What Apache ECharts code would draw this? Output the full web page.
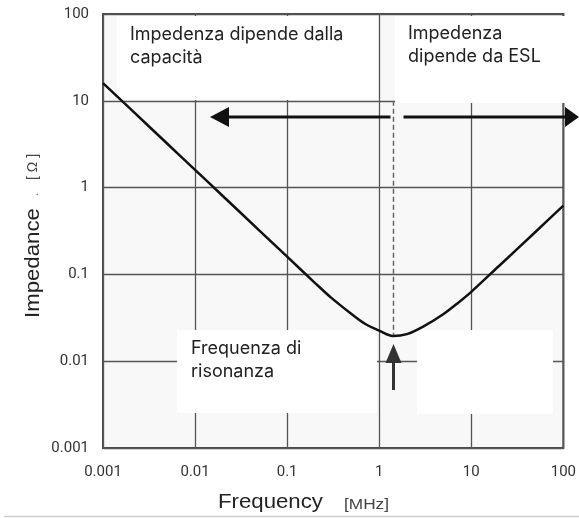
<!DOCTYPE html>
<html>
<head>
<meta charset="utf-8">
<script src="https://cdn.jsdelivr.net/npm/echarts@6/dist/echarts.min.js"></script>
<style>
  html, body { margin: 0; padding: 0; background: #ffffff; }
  #chart { width: 579px; height: 518px; }
</style>
</head>
<body>
<div id="chart"></div>
<script>
// Capacitor impedance versus frequency (log-log)
const freqMHz = [0.001, 0.002, 0.005, 0.01, 0.02, 0.05, 0.1, 0.2, 0.3, 0.5, 0.7, 1, 1.4, 2, 3, 5, 7, 10, 20, 50, 100];
const impedanceOhm = [16, 8, 3.2, 1.6, 0.8, 0.32, 0.16, 0.08, 0.054, 0.035, 0.027, 0.0225, 0.0195, 0.0205, 0.025, 0.035, 0.046, 0.063, 0.125, 0.31, 0.62];
const xTickLabels = ['0.001', '0.01', '0.1', '1', '10', '100'];
const yTickLabels = ['0.001', '0.01', '0.1', '1', '10', '100'];
const resonanceFreq = 1.4;
const resonanceZ = 0.0195;
const arrowLevel = 6.5;   // height of the double arrow, in ohms

const boxLeftTitle = ['Impedenza dipende dalla', 'capacità'];
const boxRightTitle = ['Impedenza', 'dipende da ESL'];
const resonanceTitle = ['Frequenza di', 'risonanza'];

const chart = echarts.init(document.getElementById('chart'), null, { renderer: 'canvas' });

function tickText(list, v) {
  const i = Math.round(Math.log10(v)) + 3;
  return list[i] !== undefined ? list[i] : '';
}

const gridColor = '#555555';

chart.setOption({
  animation: false,
  grid: {
    left: 103, right: 15, top: 14, bottom: 70,
    show: true,
    backgroundColor: '#f8f8f8',
    borderColor: '#4a4a4a',
    borderWidth: 2
  },
  xAxis: {
    type: 'log', logBase: 10, min: 0.001, max: 100,
    axisLine: { show: false },
    axisTick: { show: false },
    splitLine: { show: true, lineStyle: { color: gridColor, width: 1.3 } },
    axisLabel: {
      margin: 17, color: '#333', fontFamily: 'Roboto', fontSize: 15,
      formatter: v => tickText(xTickLabels, v)
    }
  },
  yAxis: {
    type: 'log', logBase: 10, min: 0.001, max: 100,
    axisLine: { show: false },
    axisTick: { show: false },
    splitLine: { show: true, lineStyle: { color: gridColor, width: 1.3 } },
    axisLabel: {
      margin: 14, color: '#333', fontFamily: 'Roboto', fontSize: 15,
      formatter: v => tickText(yTickLabels, v)
    }
  },
  series: [{
    type: 'line',
    z: 5,
    data: freqMHz.map((f, i) => [f, impedanceOhm[i]]),
    smooth: 0.3,
    showSymbol: false,
    lineStyle: { color: '#111', width: 2.5 }
  }]
});

// Annotations: text panels, arrows and the resonance marker
const pRes = chart.convertToPixel({ gridIndex: 0 }, [resonanceFreq, resonanceZ]);
const pTen = chart.convertToPixel({ gridIndex: 0 }, [resonanceFreq, 10]);
const pArrow = chart.convertToPixel({ gridIndex: 0 }, [resonanceFreq, arrowLevel]);
const xr = Math.round(pRes[0]) + 0.5;
const ya = Math.round(pArrow[1]);

const txtFont = 'Inter';
const txtSize = 18;
const txtColor = '#222';

function panelText(lines, x, baseline) {
  return lines.map((t, i) => ({
    type: 'text', z: 12,
    x: x, y: baseline + i * 23 - 6,
    style: { text: t, fill: txtColor, font: txtSize + 'px ' + txtFont, verticalAlign: 'middle', align: 'left' }
  }));
}

const elements = [
  // white panels
  { type: 'rect', z: 3, shape: { x: 117, y: 16, width: 261, height: 84 }, style: { fill: '#ffffff' } },
  { type: 'rect', z: 3, shape: { x: 395, y: 16, width: 184, height: 87 }, style: { fill: '#ffffff' } },
  { type: 'rect', z: 3, shape: { x: 177, y: 330, width: 200, height: 83 }, style: { fill: '#ffffff' } },
  { type: 'rect', z: 3, shape: { x: 417, y: 330, width: 136, height: 84 }, style: { fill: '#ffffff' } },

  // dashed resonance line
  { type: 'line', z: 8, shape: { x1: xr, y1: pTen[1], x2: xr, y2: pRes[1] - 1 },
    style: { stroke: '#666', lineWidth: 1.5, lineDash: [5, 3] } },

  // double arrow split at the resonance line
  { type: 'line', z: 8, shape: { x1: 225, y1: ya, x2: xr - 3, y2: ya }, style: { stroke: '#111', lineWidth: 3 } },
  { type: 'polygon', z: 8, shape: { points: [[210, ya], [229, ya - 10], [229, ya + 10]] }, style: { fill: '#111' } },
  { type: 'line', z: 8, shape: { x1: xr + 10, y1: ya, x2: 566, y2: ya }, style: { stroke: '#111', lineWidth: 3 } },
  { type: 'polygon', z: 8, shape: { points: [[579, ya], [565, ya - 10], [565, ya + 10]] }, style: { fill: '#111' } },

  // upward arrow under the minimum
  { type: 'polygon', z: 8, shape: { points: [[xr, pRes[1] + 8], [xr - 8, pRes[1] + 27], [xr + 8, pRes[1] + 27]] }, style: { fill: '#333' } },
  { type: 'line', z: 8, shape: { x1: xr, y1: pRes[1] + 24, x2: xr, y2: pRes[1] + 54 }, style: { stroke: '#333', lineWidth: 3 } },

  // axis titles
  { type: 'group', x: 33, y: 318, rotation: Math.PI / 2, z: 10, children: [
    { type: 'text', x: 0, y: 0, scaleX: 1.11,
      style: { text: 'Impedance', fill: '#222', font: '20px "Liberation Sans"', verticalAlign: 'middle', align: 'left' } },
    { type: 'text', x: 122, y: 2,
      style: { text: '.', fill: '#777', font: '12px "Liberation Sans"', verticalAlign: 'middle', align: 'left' } },
    { type: 'text', x: 138, y: 0,
      style: { text: '[ Ω ]', fill: '#444', font: '14px "Liberation Sans"', verticalAlign: 'middle', align: 'left' } }
  ] },
  { type: 'text', x: 218, y: 502, scaleX: 1.11, z: 10,
    style: { text: 'Frequency', fill: '#222', font: '20px "Liberation Sans"', verticalAlign: 'middle', align: 'left' } },
  { type: 'text', x: 344, y: 505, scaleX: 1.15, z: 10,
    style: { text: '[MHz]', fill: '#444', font: '15px "Liberation Sans"', verticalAlign: 'middle', align: 'left' } },

  // bottom rule
  { type: 'line', z: 10, shape: { x1: 4, y1: 516.5, x2: 579, y2: 516.5 }, style: { stroke: '#cfcfcf', lineWidth: 1.5 } }
]
  .concat(panelText(boxLeftTitle, 130, 41))
  .concat(panelText(boxRightTitle, 408, 40))
  .concat(panelText(resonanceTitle, 191, 355));

chart.setOption({ graphic: { elements: elements } });
</script>
</body>
</html>
